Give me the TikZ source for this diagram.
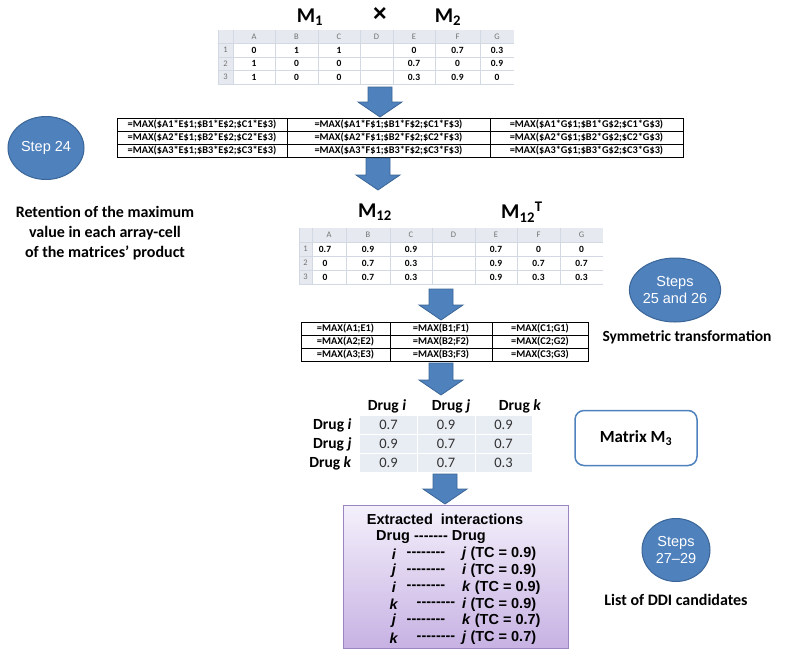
\documentclass[tikz,border=0pt]{standalone}
\usepackage{fontspec}
\setmainfont{Carlito}
\newfontfamily\arial{Liberation Sans}
\usetikzlibrary{positioning,shapes.geometric}

\definecolor{stepblue}{HTML}{4F81BD}
\definecolor{stepedge}{HTML}{3A6596}
\definecolor{hdrgray}{HTML}{E6EAF0}
\definecolor{gridgray}{HTML}{D3D9E3}
\definecolor{cellblue}{HTML}{E8ECF3}
\definecolor{boxtop}{HTML}{F4F0FB}
\definecolor{boxbot}{HTML}{C7B2E3}
\definecolor{boxedge}{HTML}{9C86C2}

\tikzset{
  stepoval/.style={ellipse, draw=stepedge, line width=1pt, fill=stepblue, text=white,
    align=center, inner sep=0pt, font=\arial\fontsize{14.5}{17}\selectfont},
  note/.style={font=\bfseries\fontsize{16}{20}\selectfont, align=center},
  title/.style={font=\bfseries\fontsize{21}{23}\selectfont},
  colhead/.style={font=\fontsize{8.5}{10}\selectfont, text=black!55},
  cellval/.style={font=\bfseries\fontsize{9.5}{11}\selectfont},
  formula/.style={font=\bfseries\fontsize{10.3}{12}\selectfont},
  flowarrow/.style={fill=stepblue, draw=stepedge, line width=0.8pt},
  drughead/.style={font=\bfseries\fontsize{15.5}{18}\selectfont},
  drugval/.style={font=\fontsize{14.5}{16}\selectfont, text=black!80},
  listline/.style={font=\arial\bfseries\fontsize{14.5}{17}\selectfont, inner sep=0pt},
}

% block arrow pointing down: x, top, tip
\newcommand{\flowdown}[3]{%
  \draw[flowarrow] ({#1-12},#2) -- ({#1+12},#2) -- ({#1+12},{#3-15})
    -- ({#1+22},{#3-15}) -- (#1,#3) -- ({#1-22},{#3-15}) -- ({#1-12},{#3-15}) -- cycle;}

\begin{document}
\begin{tikzpicture}[x=1pt,y=-1pt]
  \useasboundingbox (0,0) rectangle (794,654);

  % first sheet: M1 x M2
  \node[title] (m1) at (310,17) {M\textsubscript{1}};
  \node[title, font=\arial\bfseries\fontsize{24}{24}\selectfont] (times) at (380,15) {×};
  \node[title] (m2) at (448,17) {M\textsubscript{2}};
  \fill[hdrgray] (218,30) rectangle (514,43);
  \fill[hdrgray] (218,43) rectangle (233,84);
  \foreach \ya in {43,57,70,84} \draw[gridgray] (218,\ya) -- (514,\ya);
  \foreach \xa in {218,233,275,318,360,393,435,480} \draw[gridgray] (\xa,30) -- (\xa,84);
  \foreach \xa/\xb/\c in {233/275/A,275/318/B,318/360/C,360/393/D,393/435/E,435/480/F,480/514/G}
    \node[colhead] (s1\c) at ({(\xa+\xb)/2},36.5) {\c};
  \foreach \r/\y in {1/50,2/63.5,3/77} \node[colhead] (s1r\r) at (225.5,\y) {\r};
  \foreach \r/\y/\cells in {1/50/{254/0,296.5/1,339/1,414/0,457.5/0.7,497/0.3},
                           2/63.5/{254/1,296.5/0,339/0,414/0.7,457.5/0,497/0.9},
                           3/77/{254/1,296.5/0,339/0,414/0.3,457.5/0.9,497/0}}
    \foreach \x/\v [count=\k] in \cells
      \node[cellval] (s1v\r\k) at (\x,\y) {\v};

  \flowdown{380}{87}{117}

  % products kept as maxima
  \draw[line width=0.8pt] (117,118) rectangle (683,157);
  \foreach \ya in {131,144} \draw (117,\ya) -- (683,\ya);
  \foreach \xa in {287,490} \draw (\xa,118) -- (\xa,157);
  \foreach \r/\y in {1/124.5,2/137.5,3/150.5}
    \foreach \L/\x in {E/202,F/388.5,G/586.5}
      \node[formula] (f\L\r) at (\x,\y) {=MAX(\$A\r*\L\$1;\$B\r*\L\$2;\$C\r*\L\$3)};

  \node[stepoval, minimum width=76, minimum height=63] (step24) at (46,148) {Step 24};
  \node[note] (retain) at (105,233) {Retention of the maximum\\value in each array-cell\\of the matrices\textquoteright\ product};

  \flowdown{378}{158}{190}

  % second sheet: M12 and its transpose
  \node[title] (m12) at (375,212) {M\textsubscript{12}};
  \node[title] (m12t) at (522,212) {M\textsubscript{12}\textsuperscript{T}};
  \fill[hdrgray] (299,228) rectangle (603,242);
  \fill[hdrgray] (299,242) rectangle (312,284);
  \foreach \ya in {242,256,270,284} \draw[gridgray] (299,\ya) -- (603,\ya);
  \foreach \xa in {299,312,346,390,432,475,517,560} \draw[gridgray] (\xa,228) -- (\xa,284);
  \foreach \xa/\xb/\c in {312/346/A,346/390/B,390/432/C,432/475/D,475/517/E,517/560/F,560/603/G}
    \node[colhead] (s2\c) at ({(\xa+\xb)/2},235) {\c};
  \foreach \r/\y in {1/249,2/263,3/277} \node[colhead] (s2r\r) at (305.5,\y) {\r};
  \foreach \r/\y/\cells in {1/249/{325/0.7,368/0.9,411/0.9,496/0.7,538.5/0,581.5/0},
                           2/263/{325/0,368/0.7,411/0.3,496/0.9,538.5/0.7,581.5/0.7},
                           3/277/{325/0,368/0.7,411/0.3,496/0.9,538.5/0.3,581.5/0.3}}
    \foreach \x/\v [count=\k] in \cells
      \node[cellval] (s2v\r\k) at (\x,\y) {\v};

  \node[stepoval, minimum width=68, minimum height=64] (step25) at (675,290) {Steps\\25 and 26};

  \flowdown{441}{289}{320}

  % symmetric step
  \draw[line width=0.8pt] (301,322) rectangle (588,361);
  \foreach \ya in {335,348} \draw (301,\ya) -- (588,\ya);
  \foreach \xa in {390,492} \draw (\xa,322) -- (\xa,361);
  \foreach \r/\y in {1/328.5,2/341.5,3/354.5}
    \foreach \a/\b/\x in {A/E/345.5,B/F/441,C/G/540}
      \node[formula] (g\a\r) at (\x,\y) {=MAX(\a\r;\b\r)};
  \node[note, font=\bfseries\fontsize{15.5}{20}\selectfont] (symm) at (687,337) {Symmetric transformation};

  \flowdown{441}{363}{395}

  % matrix M3
  \foreach \xa/\xb in {360/417,418/475,476/532}
    \foreach \ya/\yb in {416/434,435/453,454/472}
      \fill[cellblue] (\xa,\ya) rectangle (\xb,\yb);
  \foreach \d/\x [count=\k] in {i/387,j/451,k/520}
    \node[drughead] (col\d) at (\x,406) {Drug \textit{\d}};
  \foreach \d/\y in {i/425,j/444,k/463}
    \node[drughead, anchor=east] (row\d) at (355,\y) {Drug \textit{\d}};
  \foreach \r/\y/\vals in {i/425/{0.7,0.9,0.9},j/444/{0.9,0.7,0.7},k/463/{0.9,0.7,0.3}}
    \foreach \v [count=\k] in \vals
      \node[drugval] (v\r\k) at ({331+57.5*\k},\y) {\v};
  \node[draw=stepblue, line width=1.5pt, rounded corners=9pt, minimum width=122, minimum height=55,
    font=\bfseries\fontsize{17}{20}\selectfont] (m3box) at (636,438) {Matrix M\textsubscript{3}};

  \flowdown{445}{474}{504}

  % extracted DDI list
  \node[draw=boxedge, line width=0.8pt, top color=boxtop, bottom color=boxbot,
    minimum width=225, minimum height=143] (ddibox) at (455.5,576.5) {};
  \node[listline] (extr) at (445,519) {Extracted\ \ interactions};
  \node[listline] (pairs) at (431,537) {Drug -{}-{}-{}-{}-{}-{}- Drug};
  \foreach \a/\b/\tc/\xd [count=\k] in {i/j/0.9/426,j/i/0.9/426,i/k/0.9/426,k/i/0.9/436,j/k/0.7/426,k/j/0.7/436} {
    \pgfmathsetmacro\yy{554+16.8*(\k-1)}
    \node[listline] (pa\k) at (394,\yy) {\textit{\a}};
    \node[listline] (pd\k) at (\xd,\yy) {-{}-{}-{}-{}-{}-{}-{}-};
    \node[listline, anchor=west] (pb\k) at (462,\yy) {\textit{\b} (TC = \tc)};
  }

  \node[stepoval, minimum width=68, minimum height=63] (step27) at (676,550) {Steps\\27–29};
  \node[note] (ddi) at (676,600) {List of DDI candidates};
\end{tikzpicture}
\end{document}
